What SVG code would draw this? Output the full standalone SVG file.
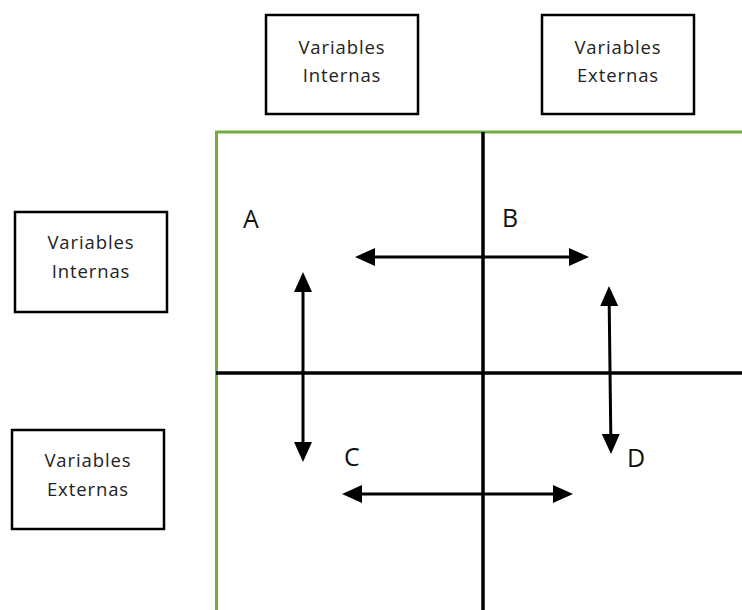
<svg xmlns="http://www.w3.org/2000/svg" width="742" height="610" viewBox="0 0 742 610">
<style>
.box{fill:#fff;stroke:#000;stroke-width:2.5}
.bt{font-family:"Open Sans","Liberation Sans",sans-serif;font-size:18.5px;letter-spacing:0.9px;fill:#222;text-anchor:middle}
.lab{font-family:"Open Sans","Liberation Sans",sans-serif;font-size:25px;fill:#111}
.axis{stroke:#000;stroke-width:3.5;fill:none}
.frame{stroke:#70AD47;stroke-width:3;fill:none}
.arr{stroke:#000;stroke-width:3;fill:none;marker-start:url(#ah);marker-end:url(#ah)}
</style>
<defs>
<marker id="ah" markerUnits="userSpaceOnUse" markerWidth="20" markerHeight="20" viewBox="0 0 20 20" refX="10" refY="10" orient="auto-start-reverse">
<path d="M0,1 L20,10 L0,19 z" fill="#000"/>
</marker>
</defs>
<rect width="742" height="610" fill="#fff"/>
<g id="top-internas">
<rect class="box" x="266" y="15" width="152" height="99"/>
<text class="bt" x="342" y="54">Variables</text>
<text class="bt" x="342" y="82">Internas</text>
</g>
<g id="top-externas">
<rect class="box" x="542" y="15" width="152" height="99"/>
<text class="bt" x="618" y="54">Variables</text>
<text class="bt" x="618" y="82">Externas</text>
</g>
<g id="left-internas">
<rect class="box" x="15" y="212" width="152" height="100"/>
<text class="bt" x="91" y="249">Variables</text>
<text class="bt" x="91" y="278">Internas</text>
</g>
<g id="left-externas">
<rect class="box" x="12" y="430" width="152" height="99"/>
<text class="bt" x="88" y="467">Variables</text>
<text class="bt" x="88" y="496">Externas</text>
</g>
<g id="grid">
<path class="frame" d="M216.5,610 V132 H742"/>
<line class="axis" x1="483" y1="132" x2="483" y2="610"/>
<line class="axis" x1="216" y1="373" x2="742" y2="373"/>
</g>
<g id="labels">
<text class="lab" x="243" y="228">A</text>
<text class="lab" x="502" y="227">B</text>
<text class="lab" x="344" y="466">C</text>
<text class="lab" x="627" y="467">D</text>
</g>
<g id="connectors">
<line class="arr" x1="303" y1="282" x2="303" y2="452"/>
<line class="arr" x1="365" y1="257" x2="579" y2="257"/>
<line class="arr" x1="352" y1="494" x2="563" y2="494"/>
<line class="arr" x1="609.1" y1="296" x2="610.9" y2="444"/>
</g>
</svg>
